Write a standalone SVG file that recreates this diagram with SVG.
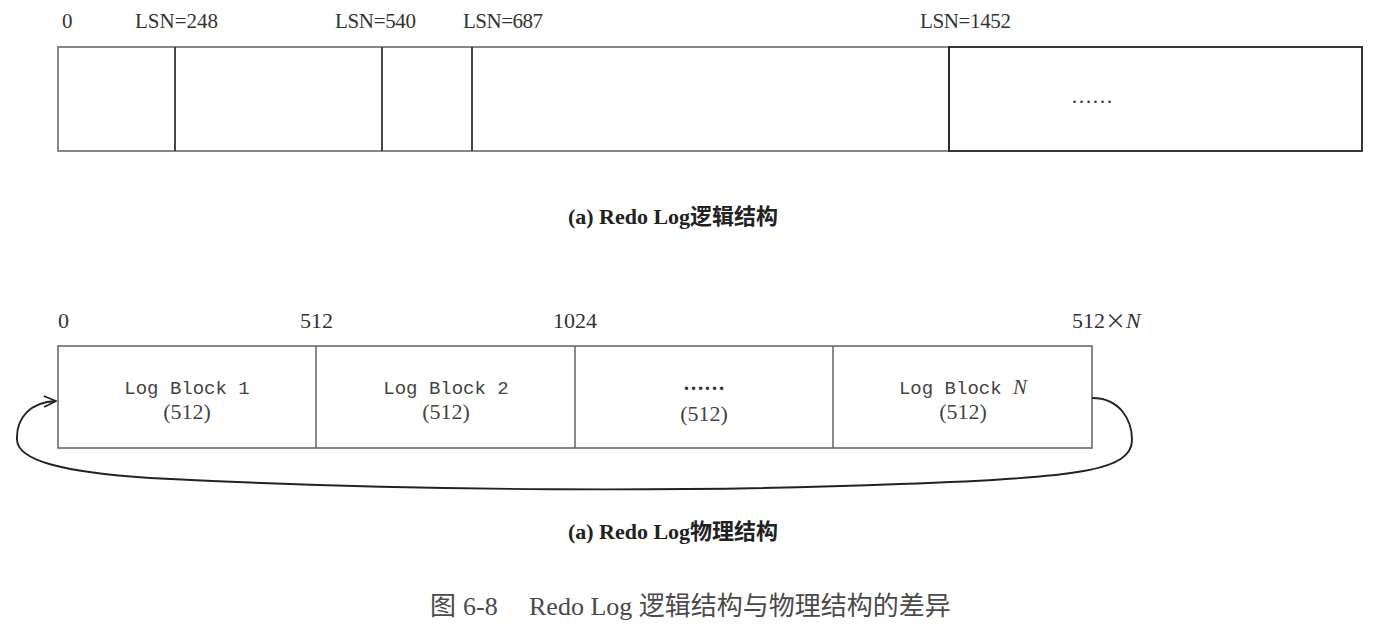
<svg xmlns="http://www.w3.org/2000/svg" width="1380" height="630" viewBox="0 0 1380 630">
  <defs>
    <style>
      .lbl { font-family: "Liberation Serif", "Times New Roman", serif; font-size: 21px; fill: #333; }
      .num { font-family: "Liberation Serif", "Times New Roman", serif; font-size: 22px; fill: #333; }
      .mono { font-family: "Liberation Mono", "Courier New", monospace; font-size: 19px; fill: #444; }
      .paren { font-family: "Liberation Serif", "Times New Roman", serif; font-size: 22px; fill: #444; }
      .cap { font-family: "Liberation Serif", "Noto Sans CJK SC", serif; font-size: 22px; font-weight: bold; fill: #222; }
      .fig { font-family: "Liberation Serif", "Noto Sans CJK SC", serif; font-size: 26px; fill: #4a4a4a; }
      .frame { fill: none; stroke: #6a6a6a; stroke-width: 1.6; }
      .div { stroke: #333; stroke-width: 1.8; }
      .soft { stroke: #666; stroke-width: 1.5; }
      .link { fill: none; stroke: #222; stroke-width: 1.9; }
    </style>
    <marker id="open" viewBox="0 0 14 14" refX="13" refY="7" markerWidth="14" markerHeight="14" markerUnits="userSpaceOnUse" orient="auto">
      <path d="M1,1.5 L13,7 L1,12.5" fill="none" stroke="#222" stroke-width="1.8"/>
    </marker>
  </defs>
  <rect width="1380" height="630" fill="#ffffff"/>

  <!-- logical structure -->
  <g id="logical">
    <text class="lbl" x="62" y="28">0</text>
    <text class="lbl" x="135" y="28" textLength="83">LSN=248</text>
    <text class="lbl" x="335" y="28" textLength="81">LSN=540</text>
    <text class="lbl" x="463" y="28" textLength="80">LSN=687</text>
    <text class="lbl" x="920" y="28" textLength="91">LSN=1452</text>
    <rect class="frame" x="58" y="47" width="891" height="104"/>
    <line class="div" x1="175" y1="47" x2="175" y2="151"/>
    <line class="div" x1="382" y1="47" x2="382" y2="151"/>
    <line class="div" x1="472" y1="47" x2="472" y2="151"/>
    <rect x="949" y="47" width="413" height="104" fill="none" stroke="#222" stroke-width="1.8"/>
    <text class="lbl" x="1092" y="103" text-anchor="middle" font-size="14">……</text>
  </g>
  <text class="cap" x="673" y="224" text-anchor="middle">(a) Redo Log逻辑结构</text>

  <!-- physical structure -->
  <g id="physical">
    <text class="num" x="58" y="328">0</text>
    <text class="num" x="300" y="328">512</text>
    <text class="num" x="553" y="328">1024</text>
    <text class="num" x="1072" y="328">512<tspan font-family="Noto Sans CJK SC, sans-serif" font-size="21">×</tspan><tspan font-style="italic">N</tspan></text>
    <rect class="frame" x="58" y="346" width="1034" height="102"/>
    <line class="soft" x1="316" y1="346" x2="316" y2="448"/>
    <line class="soft" x1="575" y1="346" x2="575" y2="448"/>
    <line class="soft" x1="833" y1="346" x2="833" y2="448"/>
  </g>
  <g id="block1">
    <text class="mono" x="187" y="394" text-anchor="middle">Log Block 1</text>
    <text class="paren" x="187" y="419" text-anchor="middle">(512)</text>
  </g>
  <g id="block2">
    <text class="mono" x="446" y="394" text-anchor="middle">Log Block 2</text>
    <text class="paren" x="446" y="419" text-anchor="middle">(512)</text>
  </g>
  <g id="block3">
    <text class="lbl" x="704" y="390" text-anchor="middle" font-weight="bold" font-size="15">……</text>
    <text class="paren" x="704" y="421" text-anchor="middle">(512)</text>
  </g>
  <g id="blockN">
    <text class="mono" x="963" y="394" text-anchor="middle">Log Block <tspan font-family="Liberation Serif, serif" font-style="italic" font-size="21">N</tspan></text>
    <text class="paren" x="963" y="419" text-anchor="middle">(512)</text>
  </g>

  <!-- wrap-around from the last block back to the first -->
  <g id="connectors">
    <path class="link" marker-end="url(#open)" d="M1092,398 C1120,398 1132,420 1132,440 C1132,470 1080,478 900,484 C700,492 420,492 150,478 C60,472 18,460 17,440 C16,418 30,402 56,401"/>
  </g>

  <text class="cap" x="673" y="539" text-anchor="middle">(a) Redo Log物理结构</text>
  <text class="fig" x="430" y="615">图</text>
  <text class="fig" x="463" y="615">6-8</text>
  <text class="fig" x="529" y="615">Redo Log 逻辑结构与物理结构的差异</text>
</svg>
